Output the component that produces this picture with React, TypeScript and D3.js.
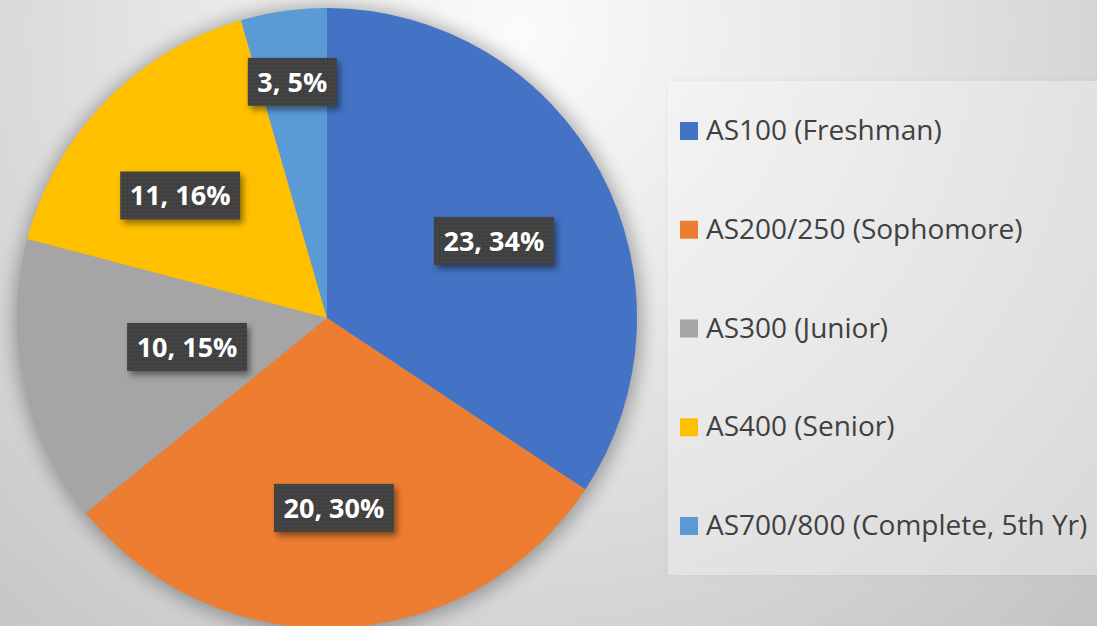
import React from "react";
import * as d3 from "d3";

const categories = [
  "AS100 (Freshman)",
  "AS200/250 (Sophomore)",
  "AS300 (Junior)",
  "AS400 (Senior)",
  "AS700/800 (Complete, 5th Yr)",
];
const values = [23, 20, 10, 11, 3];
const percentLabels = ["34%", "30%", "15%", "16%", "5%"];
const colors = ["#4472C4", "#ED7D31", "#A5A5A5", "#FFC000", "#5B9BD5"];

// label placement (fraction of radius, angular shift in degrees)
const labelRadiusFrac = [0.593, 0.613, 0.461, 0.617, 0.77];
const labelAngleShift = [3.4, 0.6, 0.4, -4.5, -0.3];

const W = 1097;
const H = 626;
const cx = 327;
const cy = 318;
const R = 310;

export default function App() {
  const pie = d3.pie<number>().sort(null).value((d) => d)(values);
  const arc = d3.arc<d3.PieArcDatum<number>>().innerRadius(0).outerRadius(R);

  const labelFont = 27;
  const labelH = 48;
  const pad = 10;

  const legendFont = 28;
  const legendY = d3.scalePoint<string>().domain(categories).range([140, 535]);

  return (
    <svg
      width={W}
      height={H}
      style={{ position: "absolute", left: 0, top: 0, display: "block" }}
    >
      <defs>
        <radialGradient id="bg" gradientUnits="userSpaceOnUse" cx={520} cy={30} r={820}>
          <stop offset="0" stopColor="#fbfbfb" />
          <stop offset="0.45" stopColor="#e4e4e4" />
          <stop offset="1" stopColor="#c4c4c4" />
        </radialGradient>
        <filter id="pieShadow" x="-20%" y="-20%" width="140%" height="140%">
          <feGaussianBlur stdDeviation="9" />
        </filter>
        <filter id="boxShadow" x="-20%" y="-30%" width="150%" height="170%">
          <feDropShadow dx="3" dy="4" stdDeviation="3" floodColor="#000" floodOpacity="0.45" />
        </filter>
        <filter id="legShadow" x="-5%" y="-5%" width="110%" height="110%">
          <feDropShadow dx="0" dy="0" stdDeviation="3" floodColor="#000" floodOpacity="0.12" />
        </filter>
        <pattern id="dots" width="4" height="4" patternUnits="userSpaceOnUse">
          <rect width="4" height="4" fill="#404040" />
          <rect x="1" y="1" width="1" height="1" fill="#5a5a5a" />
        </pattern>
      </defs>

      <rect width={W} height={H} fill="url(#bg)" />

      {/* legend panel */}
      <rect
        x={668}
        y={81}
        width={W - 668 + 10}
        height={494}
        fill="#ffffff"
        fillOpacity={0.35}
        filter="url(#legShadow)"
      />

      {/* pie */}
      <circle cx={cx + 1} cy={cy + 2} r={R + 4} fill="#000" opacity={0.3} filter="url(#pieShadow)" />
      <g transform={`translate(${cx},${cy})`}>
        {pie.map((p, i) => (
          <path key={i} d={arc(p) || ""} fill={colors[i]} />
        ))}
      </g>

      {/* data labels */}
      {pie.map((p, i) => {
        const a = (p.startAngle + p.endAngle) / 2 + (labelAngleShift[i] * Math.PI) / 180;
        const r = R * labelRadiusFrac[i];
        const x = cx + Math.sin(a) * r;
        const y = cy - Math.cos(a) * r;
        const text = `${values[i]}, ${percentLabels[i]}`;
        const approxW = text.split("").reduce((s, ch) => {
          if (/[0-9]/.test(ch)) return s + 0.572;
          if (ch === ",") return s + 0.28;
          if (ch === " ") return s + 0.26;
          if (ch === "%") return s + 0.87;
          return s + 0.6;
        }, 0) * labelFont;
        const bw = approxW + pad * 2;
        return (
          <g key={i}>
            <rect
              x={x - bw / 2}
              y={y - labelH / 2}
              width={bw}
              height={labelH}
              fill="url(#dots)"
              filter="url(#boxShadow)"
            />
            <text
              x={x}
              y={y}
              dy="0.36em"
              textAnchor="middle"
              fill="#ffffff"
              fontFamily="'Open Sans', sans-serif"
              fontWeight={700}
              fontSize={labelFont}
            >
              {text}
            </text>
          </g>
        );
      })}

      {/* legend */}
      {categories.map((c, i) => {
        const by = legendY(c) as number;
        return (
          <g key={c}>
            <rect x={680} y={by - 18} width={18} height={18} fill={colors[i]} />
            <text
              x={706}
              y={by}
              fill="#404040"
              fontFamily="'Open Sans', sans-serif"
              fontSize={legendFont}
            >
              {c}
            </text>
          </g>
        );
      })}
    </svg>
  );
}
